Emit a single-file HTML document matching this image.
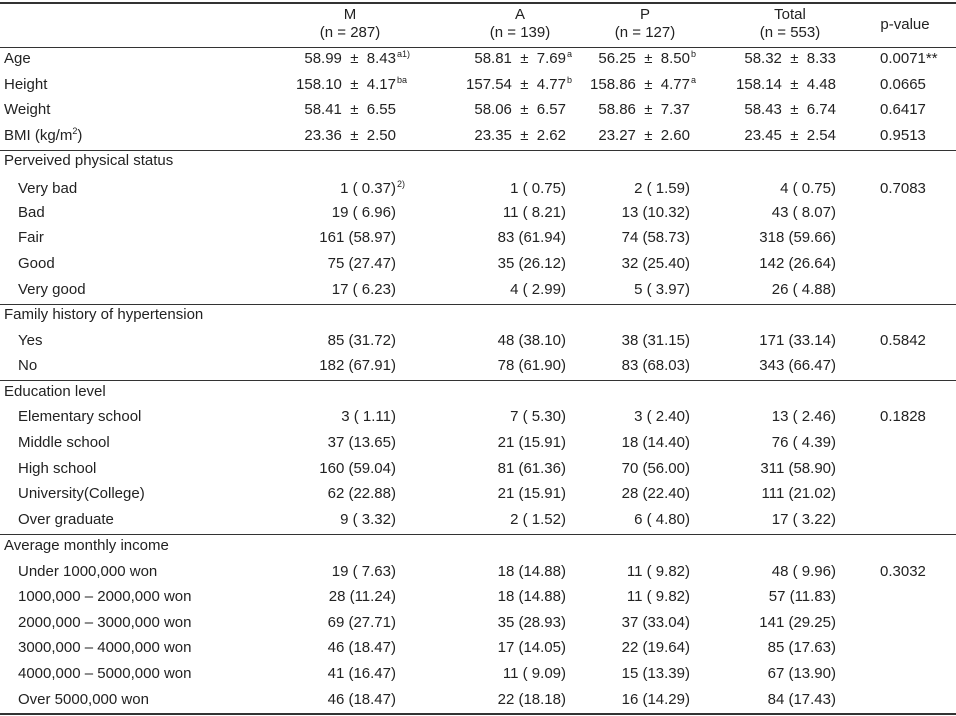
<!DOCTYPE html>
<html><head><meta charset="utf-8"><style>
body{margin:0;width:956px;height:716px;background:#fff;position:relative;overflow:hidden;font-family:"Liberation Sans",sans-serif;font-size:15px;color:#222}
.t{position:absolute;white-space:pre;line-height:18px}
.ln{position:absolute;left:0;width:956px;background:#333}
sup{font-size:9px;position:relative;top:-6px;vertical-align:baseline}
</style></head><body>
<div class="ln" style="top:2px;height:2px"></div>
<div class="ln" style="top:47px;height:1px"></div>
<div class="ln" style="top:150px;height:1px"></div>
<div class="ln" style="top:304px;height:1px"></div>
<div class="ln" style="top:380px;height:1px"></div>
<div class="ln" style="top:534px;height:1px"></div>
<div class="ln" style="top:713px;height:2px"></div>

<div class="t" style="left:300px;width:100px;text-align:center;top:6px">M<br>(n = 287)</div>
<div class="t" style="left:470px;width:100px;text-align:center;top:6px">A<br>(n = 139)</div>
<div class="t" style="left:595px;width:100px;text-align:center;top:6px">P<br>(n = 127)</div>
<div class="t" style="left:740px;width:100px;text-align:center;top:6px">Total<br>(n = 553)</div>
<div class="t" style="left:855px;width:100px;text-align:center;top:16px">p-value</div>

<script>
var rows=[
[60,4,"Age","58.99 ± 8.43","a1)","58.81 ± 7.69","a","56.25 ± 8.50","b","58.32 ± 8.33","0.0071**"],
[86,4,"Height","158.10 ± 4.17","ba","157.54 ± 4.77","b","158.86 ± 4.77","a","158.14 ± 4.48","0.0665"],
[111,4,"Weight","58.41 ± 6.55","","58.06 ± 6.57","","58.86 ± 7.37","","58.43 ± 6.74","0.6417"],
[137,4,"BMI (kg/m<sup>2</sup>)","23.36 ± 2.50","","23.35 ± 2.62","","23.27 ± 2.60","","23.45 ± 2.54","0.9513"],
[162,4,"Perveived physical status"],
[190,18,"Very bad","1 ( 0.37)","2)","1 ( 0.75)","","2 ( 1.59)","","4 ( 0.75)","0.7083"],
[214,18,"Bad","19 ( 6.96)","","11 ( 8.21)","","13 (10.32)","","43 ( 8.07)",""],
[239,18,"Fair","161 (58.97)","","83 (61.94)","","74 (58.73)","","318 (59.66)",""],
[265,18,"Good","75 (27.47)","","35 (26.12)","","32 (25.40)","","142 (26.64)",""],
[291,18,"Very good","17 ( 6.23)","","4 ( 2.99)","","5 ( 3.97)","","26 ( 4.88)",""],
[316,4,"Family history of hypertension"],
[342,18,"Yes","85 (31.72)","","48 (38.10)","","38 (31.15)","","171 (33.14)","0.5842"],
[367,18,"No","182 (67.91)","","78 (61.90)","","83 (68.03)","","343 (66.47)",""],
[393,4,"Education level"],
[418,18,"Elementary school","3 ( 1.11)","","7 ( 5.30)","","3 ( 2.40)","","13 ( 2.46)","0.1828"],
[444,18,"Middle school","37 (13.65)","","21 (15.91)","","18 (14.40)","","76 ( 4.39)",""],
[470,18,"High school","160 (59.04)","","81 (61.36)","","70 (56.00)","","311 (58.90)",""],
[495,18,"University(College)","62 (22.88)","","21 (15.91)","","28 (22.40)","","111 (21.02)",""],
[521,18,"Over graduate","9 ( 3.32)","","2 ( 1.52)","","6 ( 4.80)","","17 ( 3.22)",""],
[547,4,"Average monthly income"],
[573,18,"Under 1000,000 won","19 ( 7.63)","","18 (14.88)","","11 ( 9.82)","","48 ( 9.96)","0.3032"],
[598,18,"1000,000 – 2000,000 won","28 (11.24)","","18 (14.88)","","11 ( 9.82)","","57 (11.83)",""],
[624,18,"2000,000 – 3000,000 won","69 (27.71)","","35 (28.93)","","37 (33.04)","","141 (29.25)",""],
[649,18,"3000,000 – 4000,000 won","46 (18.47)","","17 (14.05)","","22 (19.64)","","85 (17.63)",""],
[675,18,"4000,000 – 5000,000 won","41 (16.47)","","11 ( 9.09)","","15 (13.39)","","67 (13.90)",""],
[701,18,"Over 5000,000 won","46 (18.47)","","22 (18.18)","","16 (14.29)","","84 (17.43)",""]
];
var rights=[396,566,690,836];
function txt(html,css,name){
  var d=document.createElement('div');
  d.className='t';
  d.innerHTML=html;
  d.style.cssText=css;
  
  
  document.body.appendChild(d);
}
rows.forEach(function(r,i){
  var top=r[0]-10;
  txt(r[2],'left:'+r[1]+'px;top:'+top+'px','row-label-'+i);
  if(r.length<4)return;
  var vals=[[r[3],r[4]],[r[5],r[6]],[r[7],r[8]],[r[9],'']];
  vals.forEach(function(v,j){
    var s=v[0].replace(' ± ','  ±  ');
    txt(s,'right:'+(956-rights[j])+'px;top:'+top+'px','cell-'+i+'-'+j);
    if(v[1])txt('<sup>'+v[1]+'</sup>','left:'+(rights[j]+1)+'px;top:'+top+'px','footnote-'+i+'-'+j);
  });
  if(r[10])txt(r[10],'left:880px;top:'+top+'px','p-value-'+i);
});
</script>
</body></html>
